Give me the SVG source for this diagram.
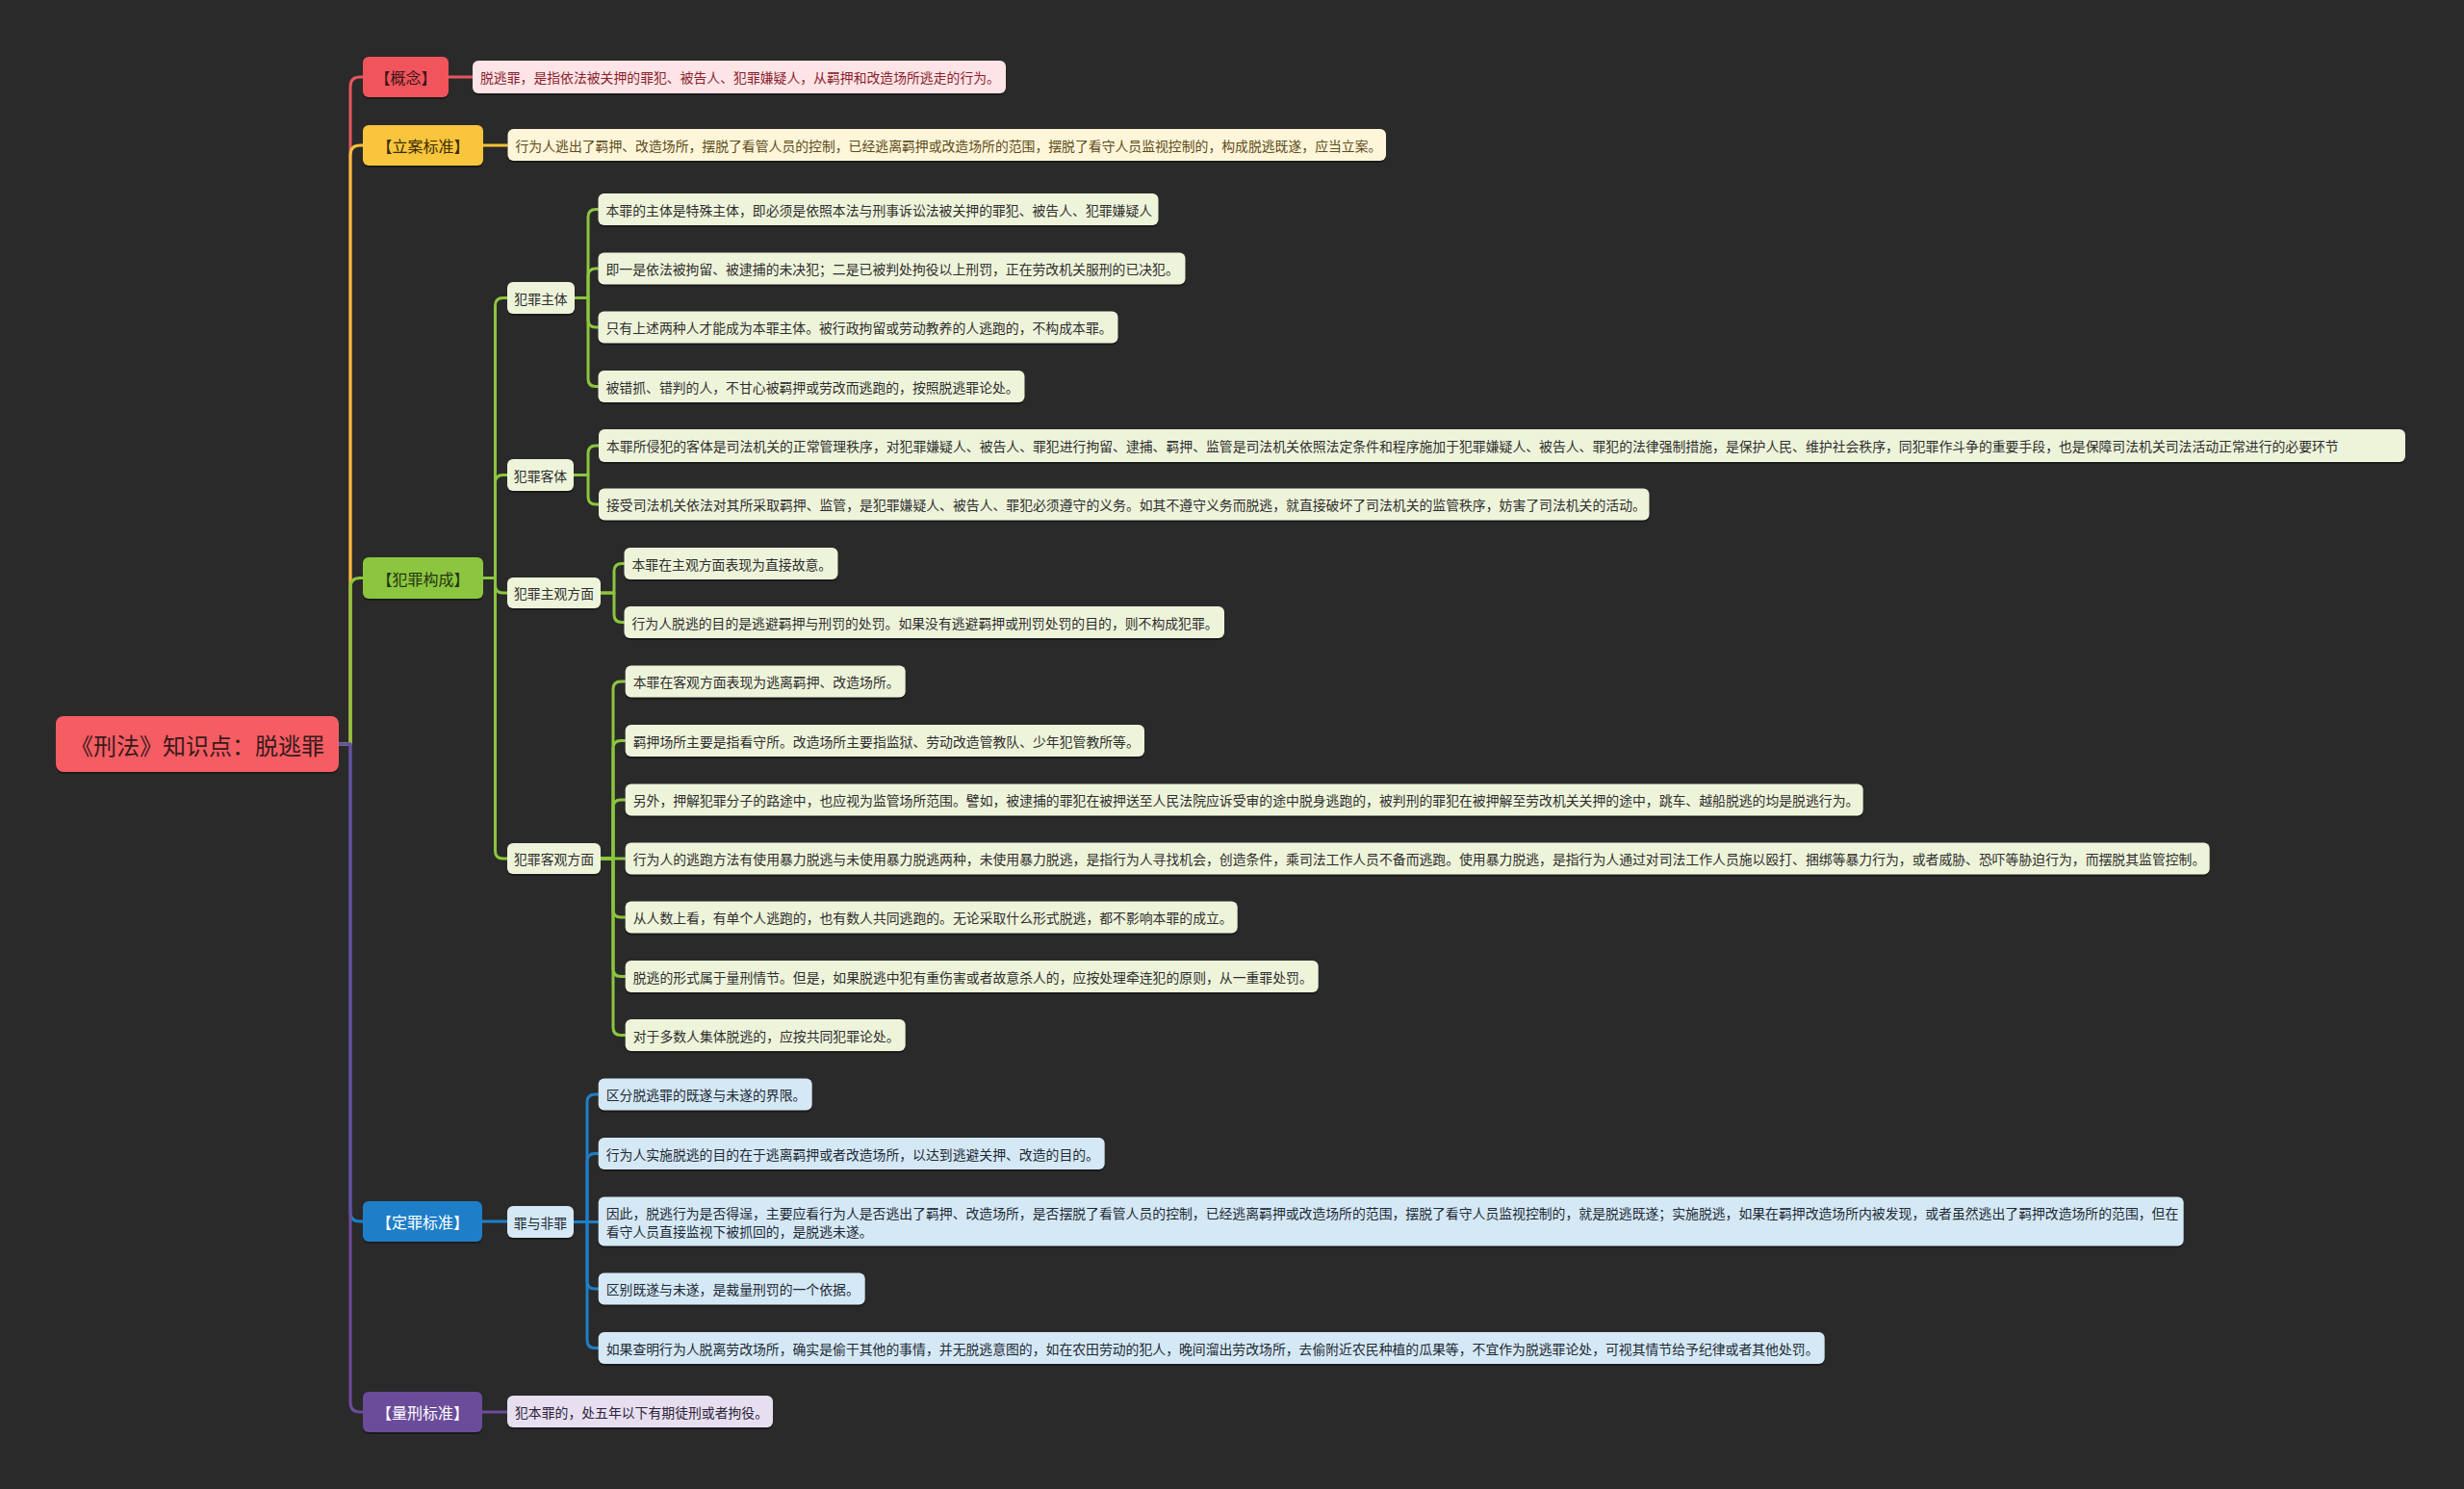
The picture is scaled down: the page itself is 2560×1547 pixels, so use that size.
<svg xmlns="http://www.w3.org/2000/svg" width="2560" height="1547" viewBox="0 0 2560 1547">
<style>
text{font-family:"Noto Sans CJK SC","Noto Sans",sans-serif;dominant-baseline:central}
.sh{fill:#000;opacity:.35}
.lf{font-size:13.85px}
.g{fill:#eef4da}.gt{fill:#2e2e2e}
.b{fill:#d5e8f5}.bt{fill:#1d2a36}
.p{fill:#e7dff0}.pt{fill:#2b2238}
.br{font-size:16px;text-anchor:middle}
.sub{font-size:13.85px;text-anchor:middle;fill:#2e2e2e}
.c{fill:none;stroke-width:3;stroke-linecap:round;stroke-linejoin:round}
.cr{stroke:#e4565e}.cy{stroke:#f5bf3a}.cg{stroke:#8cc63f}.cb{stroke:#1e7fc8}.cp{stroke:#6b4c9a}
</style>
<rect x="0" y="0" width="2560" height="1547" fill="#2a2a2a"/>

<g id="connectors">
<path class="c cr" d="M352 773 H364 V90 Q364 80 374 80 H377"/>
<path class="c cy" d="M352 773 H364 V161 Q364 151 374 151 H377"/>
<path class="c cg" d="M352 773 H364 V610.5 Q364 600.5 374 600.5 H377"/>
<path class="c cb" d="M352 773 H364 V1259 Q364 1269 374 1269 H377"/>
<path class="c cp" d="M352 773 H364 V1457 Q364 1467 374 1467 H377"/>
<path class="c cr" d="M466 80 H491"/>
<path class="c cy" d="M502 151 H527"/>
<path class="c cp" d="M501 1467 H527"/>
<path class="c cb" d="M501 1269 H527"/>
<path class="c cg" d="M502 600.5 H514.5 V317.5 Q514.5 309.5 522.5 309.5 H527"/>
<path class="c cg" d="M502 600.5 H514.5 V501.5 Q514.5 493.5 522.5 493.5 H527"/>
<path class="c cg" d="M502 600.5 H514.5 V608 Q514.5 616 522.5 616 H527"/>
<path class="c cg" d="M502 600.5 H514.5 V884 Q514.5 892 522.5 892 H527"/>
<path class="c cg" d="M597 309.5 H611 V225.5 Q611 217.5 619 217.5 H621.5"/>
<path class="c cg" d="M597 309.5 H611 V287 Q611 279 619 279 H621.5"/>
<path class="c cg" d="M597 309.5 H611 V332 Q611 340 619 340 H621.5"/>
<path class="c cg" d="M597 309.5 H611 V393.5 Q611 401.5 619 401.5 H621.5"/>
<path class="c cg" d="M596 493.5 H611 V471 Q611 463 619 463 H622"/>
<path class="c cg" d="M596 493.5 H611 V516 Q611 524 619 524 H622"/>
<path class="c cg" d="M624 616 H638 V593.5 Q638 585.5 646 585.5 H648.5"/>
<path class="c cg" d="M624 616 H638 V638.5 Q638 646.5 646 646.5 H648.5"/>
<path class="c cg" d="M624 892 H637 V716 Q637 708 645 708 H649.7"/>
<path class="c cg" d="M624 892 H637 V777.5 Q637 769.5 645 769.5 H649.7"/>
<path class="c cg" d="M624 892 H637 V839 Q637 831 645 831 H649.7"/>
<path class="c cg" d="M624 892 H649.7"/>
<path class="c cg" d="M624 892 H637 V945 Q637 953 645 953 H649.7"/>
<path class="c cg" d="M624 892 H637 V1006.5 Q637 1014.5 645 1014.5 H649.7"/>
<path class="c cg" d="M624 892 H637 V1067.5 Q637 1075.5 645 1075.5 H649.7"/>
<path class="c cb" d="M596 1269.5 H610 V1145 Q610 1137 618 1137 H621.7"/>
<path class="c cb" d="M596 1269.5 H610 V1206.5 Q610 1198.5 618 1198.5 H621.7"/>
<path class="c cb" d="M596 1269.5 H621.7"/>
<path class="c cb" d="M596 1269.5 H610 V1331 Q610 1339 618 1339 H621.7"/>
<path class="c cb" d="M596 1269.5 H610 V1392.5 Q610 1400.5 618 1400.5 H621.7"/>
</g>

<g id="root">
<rect class="sh" x="58" y="746" width="294" height="58" rx="8"/>
<rect x="58" y="744" width="294" height="58" rx="8" fill="#f55d63"/>
<text x="205" y="773" font-size="24" text-anchor="middle" fill="#3a1a1c">《刑法》知识点：脱逃罪</text>
</g>

<g id="n-gainian">
<rect class="sh" x="377" y="61" width="89" height="42" rx="6"/>
<rect x="377" y="59" width="89" height="42" rx="6" fill="#f2545b"/>
<text class="br" x="421.5" y="80" fill="#3a1418">【概念】</text>
</g>
<g id="n-gainian-1">
<rect class="sh" x="491" y="65" width="554" height="34" rx="6"/>
<rect x="491" y="63" width="554" height="34" rx="6" fill="#fde4e7"/>
<text class="lf" x="499" y="80" fill="#8a1f2c">脱逃罪，是指依法被关押的罪犯、被告人、犯罪嫌疑人，从羁押和改造场所逃走的行为。</text>
</g>

<g id="n-lian">
<rect class="sh" x="377" y="132" width="125" height="42" rx="6"/>
<rect x="377" y="130" width="125" height="42" rx="6" fill="#f9c53c"/>
<text class="br" x="439.5" y="151" fill="#3a2c05">【立案标准】</text>
</g>
<g id="n-lian-1">
<rect class="sh" x="527.5" y="136" width="912.5" height="33" rx="6"/>
<rect x="527.5" y="134" width="912.5" height="33" rx="6" fill="#fff6da"/>
<text class="lf" x="535.5" y="150.5" fill="#5c4a18">行为人逃出了羁押、改造场所，摆脱了看管人员的控制，已经逃离羁押或改造场所的范围，摆脱了看守人员监视控制的，构成脱逃既遂，应当立案。</text>
</g>

<g id="n-goucheng">
<rect class="sh" x="377" y="581" width="125" height="43" rx="6"/>
<rect x="377" y="579" width="125" height="43" rx="6" fill="#8cc63f"/>
<text class="br" x="439.5" y="600.5" fill="#243512">【犯罪构成】</text>
</g>

<g id="n-zhuti">
<rect class="sh" x="527" y="295" width="70" height="33" rx="6"/>
<rect x="527" y="293" width="70" height="33" rx="6" class="g"/>
<text class="sub" x="562" y="309.5">犯罪主体</text>
</g>
<g id="n-zhuti-1"><rect class="sh" x="621.5" y="203" width="582" height="33" rx="6"/><rect class="g" x="621.5" y="201" width="582" height="33" rx="6"/><text class="lf gt" x="629.5" y="217.5">本罪的主体是特殊主体，即必须是依照本法与刑事诉讼法被关押的罪犯、被告人、犯罪嫌疑人</text></g>
<g id="n-zhuti-2"><rect class="sh" x="621.5" y="264.5" width="610" height="33" rx="6"/><rect class="g" x="621.5" y="262.5" width="610" height="33" rx="6"/><text class="lf gt" x="629.5" y="279">即一是依法被拘留、被逮捕的未决犯；二是已被判处拘役以上刑罚，正在劳改机关服刑的已决犯。</text></g>
<g id="n-zhuti-3"><rect class="sh" x="621.5" y="325.5" width="540" height="33" rx="6"/><rect class="g" x="621.5" y="323.5" width="540" height="33" rx="6"/><text class="lf gt" x="629.5" y="340">只有上述两种人才能成为本罪主体。被行政拘留或劳动教养的人逃跑的，不构成本罪。</text></g>
<g id="n-zhuti-4"><rect class="sh" x="621.5" y="387" width="443" height="33" rx="6"/><rect class="g" x="621.5" y="385" width="443" height="33" rx="6"/><text class="lf gt" x="629.5" y="401.5">被错抓、错判的人，不甘心被羁押或劳改而逃跑的，按照脱逃罪论处。</text></g>

<g id="n-keti">
<rect class="sh" x="527" y="479" width="69" height="33" rx="6"/>
<rect x="527" y="477" width="69" height="33" rx="6" class="g"/>
<text class="sub" x="561.5" y="493.5">犯罪客体</text>
</g>
<g id="n-keti-1"><rect class="sh" x="622" y="448" width="1877" height="34" rx="6"/><rect class="g" x="622" y="446" width="1877" height="34" rx="6"/><text class="lf gt" x="630" y="463">本罪所侵犯的客体是司法机关的正常管理秩序，对犯罪嫌疑人、被告人、罪犯进行拘留、逮捕、羁押、监管是司法机关依照法定条件和程序施加于犯罪嫌疑人、被告人、罪犯的法律强制措施，是保护人民、维护社会秩序，同犯罪作斗争的重要手段，也是保障司法机关司法活动正常进行的必要环节</text></g>
<g id="n-keti-2"><rect class="sh" x="622" y="509.5" width="1091.5" height="33" rx="6"/><rect class="g" x="622" y="507.5" width="1091.5" height="33" rx="6"/><text class="lf gt" x="630" y="524">接受司法机关依法对其所采取羁押、监管，是犯罪嫌疑人、被告人、罪犯必须遵守的义务。如其不遵守义务而脱逃，就直接破坏了司法机关的监管秩序，妨害了司法机关的活动。</text></g>

<g id="n-zhuguan">
<rect class="sh" x="527" y="602" width="97" height="32" rx="6"/>
<rect x="527" y="600" width="97" height="32" rx="6" class="g"/>
<text class="sub" x="575.5" y="616">犯罪主观方面</text>
</g>
<g id="n-zhuguan-1"><rect class="sh" x="648.5" y="571" width="222" height="33" rx="6"/><rect class="g" x="648.5" y="569" width="222" height="33" rx="6"/><text class="lf gt" x="656.5" y="585.5">本罪在主观方面表现为直接故意。</text></g>
<g id="n-zhuguan-2"><rect class="sh" x="648.5" y="632" width="623.5" height="33" rx="6"/><rect class="g" x="648.5" y="630" width="623.5" height="33" rx="6"/><text class="lf gt" x="656.5" y="646.5">行为人脱逃的目的是逃避羁押与刑罚的处罚。如果没有逃避羁押或刑罚处罚的目的，则不构成犯罪。</text></g>

<g id="n-keguan">
<rect class="sh" x="527" y="878" width="97" height="32" rx="6"/>
<rect x="527" y="876" width="97" height="32" rx="6" class="g"/>
<text class="sub" x="575.5" y="892">犯罪客观方面</text>
</g>
<g id="n-keguan-1"><rect class="sh" x="649.7" y="693.5" width="291" height="33" rx="6"/><rect class="g" x="649.7" y="691.5" width="291" height="33" rx="6"/><text class="lf gt" x="657.7" y="708">本罪在客观方面表现为逃离羁押、改造场所。</text></g>
<g id="n-keguan-2"><rect class="sh" x="649.7" y="755" width="539.3" height="33" rx="6"/><rect class="g" x="649.7" y="753" width="539.3" height="33" rx="6"/><text class="lf gt" x="657.7" y="769.5">羁押场所主要是指看守所。改造场所主要指监狱、劳动改造管教队、少年犯管教所等。</text></g>
<g id="n-keguan-3"><rect class="sh" x="649.7" y="816.5" width="1286" height="33" rx="6"/><rect class="g" x="649.7" y="814.5" width="1286" height="33" rx="6"/><text class="lf gt" x="657.7" y="831">另外，押解犯罪分子的路途中，也应视为监管场所范围。譬如，被逮捕的罪犯在被押送至人民法院应诉受审的途中脱身逃跑的，被判刑的罪犯在被押解至劳改机关关押的途中，跳车、越船脱逃的均是脱逃行为。</text></g>
<g id="n-keguan-4"><rect class="sh" x="649.7" y="877.5" width="1646" height="33" rx="6"/><rect class="g" x="649.7" y="875.5" width="1646" height="33" rx="6"/><text class="lf gt" x="657.7" y="892">行为人的逃跑方法有使用暴力脱逃与未使用暴力脱逃两种，未使用暴力脱逃，是指行为人寻找机会，创造条件，乘司法工作人员不备而逃跑。使用暴力脱逃，是指行为人通过对司法工作人员施以殴打、捆绑等暴力行为，或者威胁、恐吓等胁迫行为，而摆脱其监管控制。</text></g>
<g id="n-keguan-5"><rect class="sh" x="649.7" y="938.5" width="636" height="33" rx="6"/><rect class="g" x="649.7" y="936.5" width="636" height="33" rx="6"/><text class="lf gt" x="657.7" y="953">从人数上看，有单个人逃跑的，也有数人共同逃跑的。无论采取什么形式脱逃，都不影响本罪的成立。</text></g>
<g id="n-keguan-6"><rect class="sh" x="649.7" y="1000" width="720" height="33" rx="6"/><rect class="g" x="649.7" y="998" width="720" height="33" rx="6"/><text class="lf gt" x="657.7" y="1014.5">脱逃的形式属于量刑情节。但是，如果脱逃中犯有重伤害或者故意杀人的，应按处理牵连犯的原则，从一重罪处罚。</text></g>
<g id="n-keguan-7"><rect class="sh" x="649.7" y="1061" width="291" height="33" rx="6"/><rect class="g" x="649.7" y="1059" width="291" height="33" rx="6"/><text class="lf gt" x="657.7" y="1075.5">对于多数人集体脱逃的，应按共同犯罪论处。</text></g>

<g id="n-dingzui">
<rect class="sh" x="377" y="1250" width="124" height="42" rx="6"/>
<rect x="377" y="1248" width="124" height="42" rx="6" fill="#1e7fc8"/>
<text class="br" x="439" y="1269" fill="#ffffff">【定罪标准】</text>
</g>
<g id="n-zuiyu">
<rect class="sh" x="527" y="1255" width="69" height="33" rx="6"/>
<rect x="527" y="1253" width="69" height="33" rx="6" class="b"/>
<text class="sub" x="561.5" y="1269.5" style="fill:#1d2a36">罪与非罪</text>
</g>
<g id="n-zuiyu-1"><rect class="sh" x="621.7" y="1122.5" width="222" height="33" rx="6"/><rect class="b" x="621.7" y="1120.5" width="222" height="33" rx="6"/><text class="lf bt" x="629.7" y="1137">区分脱逃罪的既遂与未遂的界限。</text></g>
<g id="n-zuiyu-2"><rect class="sh" x="621.7" y="1184" width="526" height="33" rx="6"/><rect class="b" x="621.7" y="1182" width="526" height="33" rx="6"/><text class="lf bt" x="629.7" y="1198.5">行为人实施脱逃的目的在于逃离羁押或者改造场所，以达到逃避关押、改造的目的。</text></g>
<g id="n-zuiyu-3"><rect class="sh" x="621.7" y="1245.5" width="1647" height="51" rx="6"/><rect class="b" x="621.7" y="1243.5" width="1647" height="51" rx="6"/>
<text class="lf bt" x="629.7" y="1260">因此，脱逃行为是否得逞，主要应看行为人是否逃出了羁押、改造场所，是否摆脱了看管人员的控制，已经逃离羁押或改造场所的范围，摆脱了看守人员监视控制的，就是脱逃既遂；实施脱逃，如果在羁押改造场所内被发现，或者虽然逃出了羁押改造场所的范围，但在</text>
<text class="lf bt" x="629.7" y="1279">看守人员直接监视下被抓回的，是脱逃未遂。</text></g>
<g id="n-zuiyu-4"><rect class="sh" x="621.7" y="1324.5" width="277" height="33" rx="6"/><rect class="b" x="621.7" y="1322.5" width="277" height="33" rx="6"/><text class="lf bt" x="629.7" y="1339">区别既遂与未遂，是裁量刑罚的一个依据。</text></g>
<g id="n-zuiyu-5"><rect class="sh" x="621.7" y="1386" width="1274" height="33" rx="6"/><rect class="b" x="621.7" y="1384" width="1274" height="33" rx="6"/><text class="lf bt" x="629.7" y="1400.5">如果查明行为人脱离劳改场所，确实是偷干其他的事情，并无脱逃意图的，如在农田劳动的犯人，晚间溜出劳改场所，去偷附近农民种植的瓜果等，不宜作为脱逃罪论处，可视其情节给予纪律或者其他处罚。</text></g>

<g id="n-liangxing">
<rect class="sh" x="377" y="1448" width="124" height="42" rx="6"/>
<rect x="377" y="1446" width="124" height="42" rx="6" fill="#6b4c9a"/>
<text class="br" x="439" y="1467" fill="#ffffff">【量刑标准】</text>
</g>
<g id="n-liangxing-1"><rect class="sh" x="527" y="1452" width="276" height="33" rx="6"/><rect class="p" x="527" y="1450" width="276" height="33" rx="6"/><text class="lf pt" x="535" y="1466.5">犯本罪的，处五年以下有期徒刑或者拘役。</text></g>
</svg>
